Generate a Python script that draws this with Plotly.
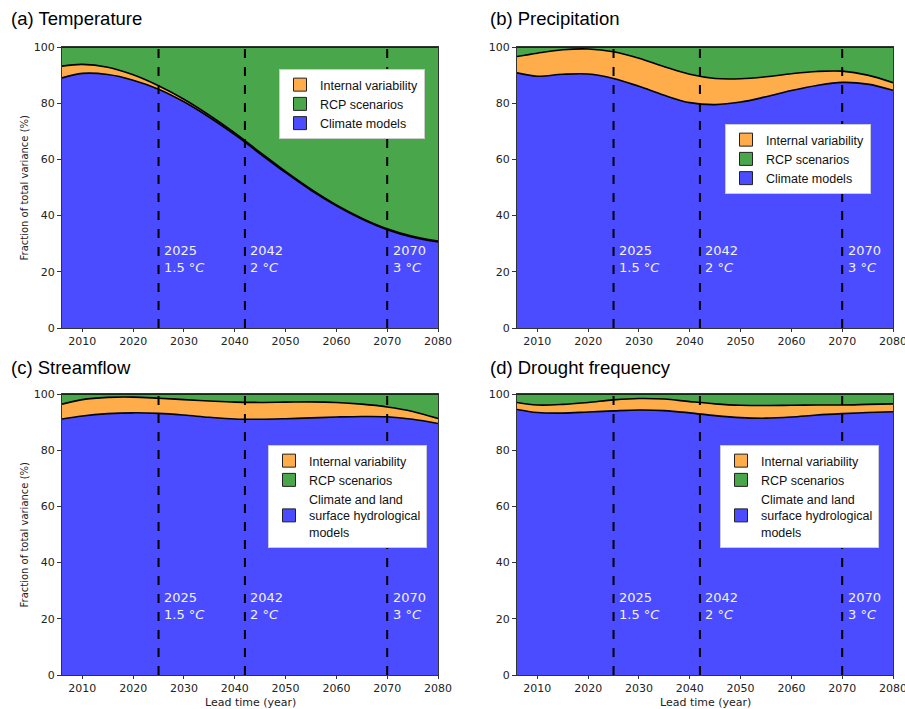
import plotly.graph_objects as go

years = [2006, 2010, 2015, 2020, 2025, 2030, 2035, 2040, 2045, 2050, 2055, 2060, 2065, 2070, 2075, 2080]

# (a) Temperature
temp_models = [89.0, 90.6, 90.2, 88.2, 85.0, 80.5, 75.0, 68.8, 62.0, 55.3, 49.0, 43.5, 38.8, 35.0, 32.3, 30.6]
temp_internal = [4.2, 3.2, 2.6, 1.9, 1.2, 0.9, 0.7, 0.6, 0.5, 0.4, 0.4, 0.3, 0.3, 0.3, 0.3, 0.3]
temp_rcp = [6.8, 6.2, 7.2, 9.9, 13.8, 18.6, 24.3, 30.6, 37.5, 44.3, 50.6, 56.2, 60.9, 64.7, 67.4, 69.1]

# (b) Precipitation
prec_models = [90.8, 89.6, 90.3, 90.4, 88.8, 86.0, 82.8, 80.2, 79.5, 80.4, 82.3, 84.5, 86.3, 87.4, 86.8, 84.6]
prec_internal = [5.8, 8.2, 8.7, 8.9, 9.5, 10.0, 10.2, 10.1, 9.3, 8.3, 7.1, 6.0, 5.0, 4.0, 3.2, 2.7]
prec_rcp = [3.4, 2.2, 1.0, 0.7, 1.7, 4.0, 7.0, 9.7, 11.2, 11.3, 10.6, 9.5, 8.7, 8.6, 10.0, 12.7]

# (c) Streamflow
flow_models = [91.1, 92.2, 93.0, 93.3, 93.1, 92.5, 91.7, 91.1, 91.0, 91.2, 91.5, 91.8, 92.0, 91.9, 91.0, 89.5]
flow_internal = [5.3, 5.8, 5.8, 5.6, 5.4, 5.5, 5.8, 6.0, 6.0, 5.9, 5.7, 5.2, 4.4, 3.5, 2.8, 1.8]
flow_rcp = [3.6, 2.0, 1.2, 1.1, 1.5, 2.0, 2.5, 2.9, 3.0, 2.9, 2.8, 3.0, 3.6, 4.6, 6.2, 8.7]

# (d) Drought frequency
drought_models = [94.5, 93.4, 93.2, 93.6, 94.0, 94.3, 94.1, 93.3, 92.3, 91.6, 91.4, 91.8, 92.5, 93.0, 93.4, 93.7]
drought_internal = [2.5, 2.7, 3.1, 3.4, 3.9, 4.1, 4.1, 4.0, 4.2, 4.4, 4.5, 4.2, 3.6, 3.1, 2.9, 2.8]
drought_rcp = [3.0, 3.9, 3.7, 3.0, 2.1, 1.6, 1.8, 2.7, 3.5, 4.0, 4.1, 4.0, 3.9, 3.9, 3.7, 3.5]

panel_titles = ["(a) Temperature", "(b) Precipitation", "(c) Streamflow", "(d) Drought frequency"]
model_labels = ["Climate models", "Climate models",
                "Climate and land<br>surface hydrological<br>models",
                "Climate and land<br>surface hydrological<br>models"]
marker_years = [2025, 2042, 2070]
marker_labels = ["2025<br>1.5 °<i>C</i>", "2042<br>2 °<i>C</i>", "2070<br>3 °<i>C</i>"]
x_ticks = [2010, 2020, 2030, 2040, 2050, 2060, 2070, 2080]
y_ticks = [0, 20, 40, 60, 80, 100]

panels = [
    (temp_models, temp_internal, temp_rcp),
    (prec_models, prec_internal, prec_rcp),
    (flow_models, flow_internal, flow_rcp),
    (drought_models, drought_internal, drought_rcp),
]

BLUE = "#4b4bff"
ORANGE = "#ffad4b"
GREEN = "#4aa64a"

W, H = 905, 709
xdoms = [[62 / W, 438 / W], [517 / W, 893 / W]]
ydoms = [[1 - 328 / H, 1 - 47 / H], [1 - 675 / H, 1 - 394 / H]]
legend_pos = [(279 / W, 1 - 69 / H), (725 / W, 1 - 124 / H), (268 / W, 1 - 445 / H), (720 / W, 1 - 445 / H)]
title_pos = [(9 / W, 1 - 19 / H), (488 / W, 1 - 19 / H), (9 / W, 1 - 367 / H), (488 / W, 1 - 367 / H)]

fig = go.Figure()
shapes = []
annotations = []
layout_extra = {}

TICKFONT = dict(family="DejaVu Sans", size=11, color="#222222")

for i, (models, internal, rcp) in enumerate(panels):
    n = i + 1
    xa = "x" if n == 1 else f"x{n}"
    ya = "y" if n == 1 else f"y{n}"
    lg = "legend" if n == 1 else f"legend{n}"
    sg = f"s{n}"
    series = [
        (model_labels[i], models, BLUE, 3),
        ("Internal variability", internal, ORANGE, 1),
        ("RCP scenarios", rcp, GREEN, 2),
    ]
    for name, vals, col, rank in series:
        fig.add_trace(go.Scatter(
            x=years, y=vals, name=name, stackgroup=sg, mode="lines",
            line=dict(color="black", width=1.6, shape="spline", smoothing=1.0),
            fillcolor=col, xaxis=xa, yaxis=ya, showlegend=False,
            hoverinfo="skip",
        ))
        # legend entry: rectangle patch with black edge
        fig.add_trace(go.Scatter(
            x=[None], y=[None], name=name, mode="markers",
            marker=dict(symbol="square", size=13, color=col, line=dict(color="#222", width=1)),
            xaxis=xa, yaxis=ya, legend=lg, legendrank=rank, showlegend=True,
        ))
    col_i = i % 2
    row_i = i // 2
    xkey = "xaxis" if n == 1 else f"xaxis{n}"
    ykey = "yaxis" if n == 1 else f"yaxis{n}"
    layout_extra[xkey] = dict(
        domain=xdoms[col_i], anchor=ya, range=[2006, 2080], tickvals=x_ticks,
        ticks="outside", ticklen=3, tickcolor="#333333", tickfont=TICKFONT,
        showline=True, mirror=True, linecolor="#333333", linewidth=1,
        showgrid=False, zeroline=False, automargin=False, ticklabeloverflow="allow",
    )
    layout_extra[ykey] = dict(
        domain=ydoms[row_i], anchor=xa, range=[0, 100], tickvals=y_ticks,
        ticks="outside", ticklen=4, tickcolor="#333333", tickfont=TICKFONT,
        showline=True, mirror=True, linecolor="#333333", linewidth=1,
        showgrid=False, zeroline=False, automargin=False, ticklabeloverflow="allow",
    )
    lx, ly = legend_pos[i]
    layout_extra[lg] = dict(
        x=lx, y=ly, xanchor="left", yanchor="top", xref="paper", yref="paper",
        bgcolor="white", bordercolor="#cccccc", borderwidth=1,
        font=dict(family="Liberation Sans, Arial", size=12.5, color="#111"),
        tracegroupgap=0, traceorder="normal", itemsizing="trace",
    )
    for yr, lab in zip(marker_years, marker_labels):
        shapes.append(dict(type="line", xref=xa, yref=f"{ya} domain", x0=yr, x1=yr, y0=0, y1=1,
                           line=dict(color="black", width=2, dash="dash"), layer="above"))
        annotations.append(dict(x=yr + 0.7, y=24.5, xref=xa, yref=ya, text=lab, showarrow=False,
                                xanchor="left", yanchor="middle", align="left",
                                font=dict(family="DejaVu Sans", size=13, color="#f2f2f2")))
    tx, ty = title_pos[i]
    annotations.append(dict(x=tx, y=ty, xref="paper", yref="paper", text=panel_titles[i], showarrow=False,
                            xanchor="left", yanchor="middle",
                            font=dict(family="Liberation Sans, Arial", size=18.5, color="black")))
    if col_i == 0:
        yc = (ydoms[row_i][0] + ydoms[row_i][1]) / 2
        annotations.append(dict(x=24 / W, y=yc, xref="paper", yref="paper", text="Fraction of total variance (%)",
                                showarrow=False, textangle=-90, xanchor="center", yanchor="middle",
                                font=dict(family="DejaVu Sans", size=10, color="#222")))
    if row_i == 1:
        xc = (xdoms[col_i][0] + xdoms[col_i][1]) / 2
        annotations.append(dict(x=xc, y=1 - 702 / H, xref="paper", yref="paper", text="Lead time (year)",
                                showarrow=False, xanchor="center", yanchor="middle",
                                font=dict(family="DejaVu Sans", size=11, color="#222")))

fig.update_layout(
    width=W, height=H, margin=dict(l=0, r=0, t=0, b=0, autoexpand=False),
    paper_bgcolor="white", plot_bgcolor="white",
    showlegend=True, shapes=shapes, annotations=annotations,
    **layout_extra,
)

fig.write_html("out.html", config={"displayModeBar": False},
               post_script="document.body.style.margin='0';document.body.style.overflow='hidden';")
